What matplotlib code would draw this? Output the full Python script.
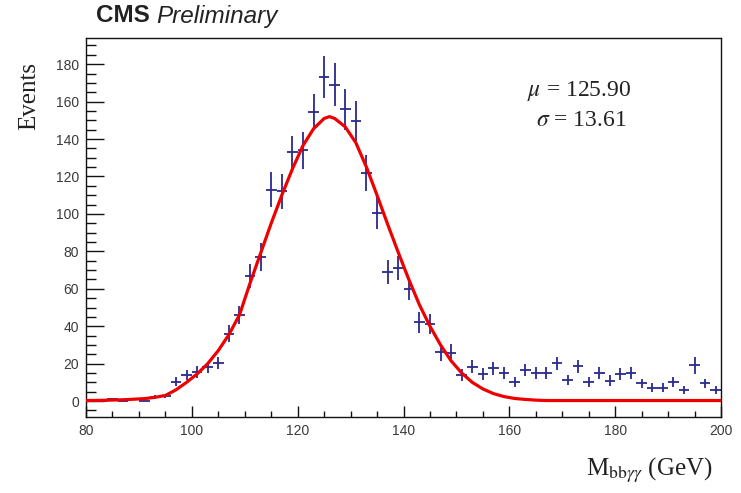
import matplotlib
matplotlib.use("Agg")
import matplotlib.pyplot as plt
from matplotlib.ticker import MultipleLocator

# ---- data ----
bin_centers = [81, 83, 85, 87, 89, 91, 93, 95, 97, 99,
               101, 103, 105, 107, 109, 111, 113, 115, 117, 119,
               121, 123, 125, 127, 129, 131, 133, 135, 137, 139,
               141, 143, 145, 147, 149, 151, 153, 155, 157, 159,
               161, 163, 165, 167, 169, 171, 173, 175, 177, 179,
               181, 183, 185, 187, 189, 191, 193, 195, 197, 199]
events = [0.3, 0, 1.0, 0, 1.0, 0, 2.2, 2.5, 10.3, 14.0,
          15.5, 18.0, 20.5, 36.0, 46.0, 67.0, 77.0, 113.0, 112.0, 133.0,
          134.0, 154.5, 173.0, 169.0, 156.0, 149.5, 122.0, 100.5, 69.0, 71.0,
          60.0, 42.0, 41.0, 26.0, 25.8, 14.0, 18.3, 14.4, 17.5, 14.8,
          10.3, 16.6, 14.8, 14.8, 20.1, 11.2, 18.6, 10.3, 14.8, 10.9,
          14.4, 14.8, 9.4, 7.1, 7.1, 10.3, 5.9, 19.2, 9.4, 5.9]
errors = [0.3, 0, 0.6, 0, 0.6, 0, 0.9, 1.0, 2.5, 2.8,
          3.0, 3.0, 3.2, 4.5, 5.0, 6.5, 7.3, 9.3, 9.3, 8.5,
          10.0, 9.5, 11.3, 11.5, 11.0, 10.7, 9.6, 8.5, 6.6, 6.5,
          5.8, 5.5, 5.3, 4.6, 4.6, 3.2, 3.5, 3.2, 3.4, 3.2,
          2.7, 3.3, 3.2, 3.2, 3.6, 2.8, 3.5, 2.7, 3.2, 2.8,
          3.2, 3.2, 2.6, 2.3, 2.3, 2.7, 2.1, 4.5, 2.6, 2.1]
bin_half_width = 1.0

# fitted curve
curve_x = [80, 83, 87, 91, 93, 95, 97, 99, 101, 103, 105, 107, 109, 111, 113,
           115, 117, 119, 121, 123, 125, 126, 127, 129, 131, 133, 135, 137,
           139, 141, 143, 145, 147, 149, 151, 153, 155, 157, 159, 161, 163,
           165, 167, 200]
curve_y = [0.3, 0.4, 0.7, 1.3, 2.0, 3.0, 6.0, 10.0, 14.5, 20.0, 27.0, 35.5,
           46.0, 63.0, 79.0, 95.0, 110.0, 124.0, 136.5, 145.5, 151.0, 152.0,
           151.0, 146.5, 138.0, 125.0, 110.0, 94.5, 79.5, 65.0, 51.5, 40.0,
           30.0, 21.5, 15.0, 10.0, 6.5, 4.0, 2.4, 1.4, 0.9, 0.5, 0.3, 0.3]

mu_text = "125.90"
sigma_text = "13.61"

# ---- figure ----
plt.rcParams['mathtext.fontset'] = 'stix'
fig = plt.figure(figsize=(7.41, 4.93), dpi=100)
ax = fig.add_axes([86/741, 1-417/493, (721-86)/741, (417-38)/493])

ax.errorbar(bin_centers, events, yerr=errors, xerr=bin_half_width, fmt='none',
            ecolor='#2a2a90', elinewidth=1.3, capsize=0, zorder=2)
ax.plot(curve_x, curve_y, color='#ee0000', lw=2.3, zorder=3)

ax.set_xlim(80, 200)
ax.set_ylim(-8.5, 194)

ax.xaxis.set_major_locator(MultipleLocator(20))
ax.xaxis.set_minor_locator(MultipleLocator(5))
ax.yaxis.set_major_locator(MultipleLocator(20))
ax.yaxis.set_minor_locator(MultipleLocator(5))

ax.tick_params(axis='both', which='both', direction='in', top=False, right=False,
               labelsize=10, labelcolor='#3a3a3a', width=1.0, color='#111111')
ax.tick_params(axis='y', which='major', length=13, pad=5)
ax.tick_params(axis='y', which='minor', length=7)
ax.tick_params(axis='x', which='major', length=8, pad=5)
ax.tick_params(axis='x', which='minor', length=4)
for lab in ax.get_xticklabels() + ax.get_yticklabels():
    lab.set_fontfamily('Liberation Sans')
for s in ax.spines.values():
    s.set_linewidth(1.0)
    s.set_color('#111111')

# axis labels
fig.text(29/741, 1-96/493, "Events", rotation=90, ha='center', va='center',
         fontsize=18, family='Liberation Serif', color='#222222')
fig.text(713/741, 1-470/493, r"M$_{\mathrm{bb}\gamma\gamma}$ (GeV)", ha='right', va='center',
         fontsize=18, family='Liberation Serif', color='#222222')

# fit parameters
fig.text(579/741, 1-91/493, r"$\mu$ = " + mu_text, ha='center', va='center',
         fontsize=17, family='Liberation Serif', color='#222222')
fig.text(581/741, 1-121/493, r"$\sigma$ = " + sigma_text, ha='center', va='center',
         fontsize=17, family='Liberation Serif', color='#222222')

# header
t1 = fig.text(96/741, 1-16/493, "CMS", ha='left', va='center', fontsize=17.5,
              family='Liberation Sans', weight='bold', color='#222222')
fig.canvas.draw()
bb = t1.get_window_extent()
fig.text((bb.x1 + 6)/741, 1-16/493, "Preliminary", ha='left', va='center', fontsize=17.5,
         family='Liberation Sans', style='italic', color='#222222')

fig.savefig("out.png", dpi=100)
